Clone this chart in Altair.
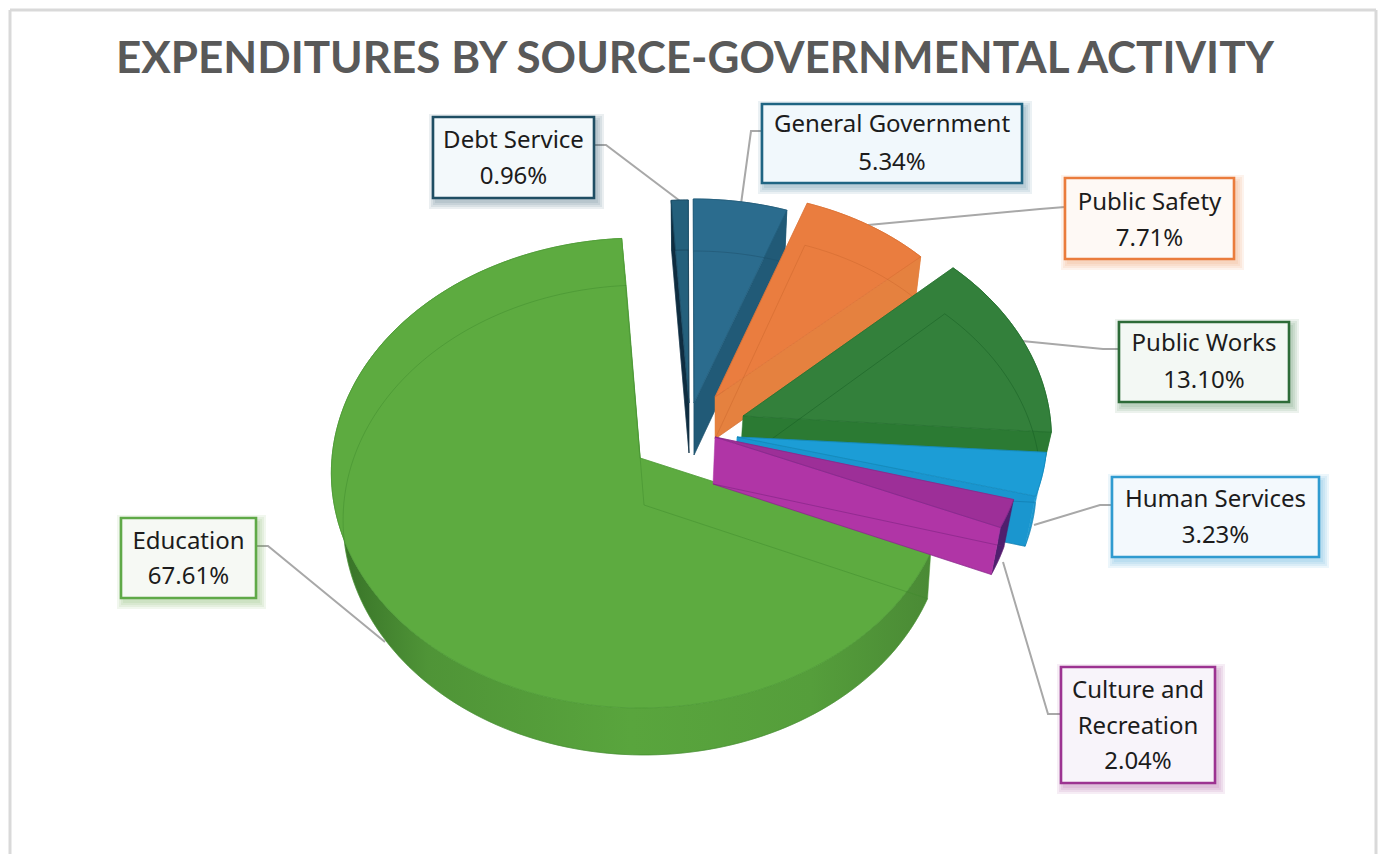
import math
import altair as alt
import pandas as pd

# Spending shares, in the order the pie runs clockwise from its first slice
categories = ["Debt Service", "General Government", "Public Safety", "Public Works",
              "Human Services", "Culture and Recreation", "Education"]
shares = [0.96, 5.34, 7.71, 13.10, 3.23, 2.04, 67.61]

# Colours: top face, radial wall, outer wall, inner edge
top_colors = ["#24607c", "#2b6c8e", "#ea7d3f", "#33803b", "#1c9dd6", "#9d2f98", "#5dab40"]
wall_colors = ["#0f2d40", "#215a77", "#e5813f", "#2b7a33", "#1a96cf", "#b035a6", "#5dab40"]
rim_colors = ["#1e5069", "#1d4f69", "#df7a3b", "#2f7838", "#1f9bd2", "#4f1f6e", "#55983c"]
edge_colors = ["#123347", "#1c4e68", "#c9662c", "#145c22", "#0e6f9e", "#6f1f78", "#3f8a2c"]

# Box styling for the callouts
box_borders = ["#1f4e63", "#1f6583", "#ea7c3c", "#2d6b38", "#2f9bd0", "#9c3391", "#5fa947"]
box_fills = ["#f3f9fb", "#f1f8fc", "#fef9f5", "#f3f8f4", "#f3f9fd", "#f8f4fa", "#f6f9f4"]

# Placement of each exploded slice: apex x, apex y, x radius, y radius, perspective, depth, bottom shift
placements = [
    (689, 403, 284, 203, 0.0, 50, 0),
    (694, 403, 284, 204, 0.0, 52, 0),
    (715, 397, 282, 205, 0.0, 42, 0),
    (743, 416, 307, 231, 0.097, 46, -3),
    (737, 437, 310, 220, 0.0, 50, -3),
    (715, 437, 310, 232, 0.0, 47, -2),
    (640, 458, 308, 234, 0.0638, 47, 4),
]
first_angle = 356.4

# Callout boxes: left, right, top, bottom
boxes = [
    (433, 594, 117, 198),
    (762, 1022, 104, 183),
    (1065, 1234, 178, 259),
    (1119, 1289, 322, 402),
    (1112, 1319, 477, 557),
    (1061, 1215, 667, 783),
    (121, 256, 518, 598),
]
label_rows = [
    [141, 177],
    [125, 163],
    [203, 239],
    [344, 381],
    [500, 536],
    [691, 727, 762],
    [542, 577],
]
label_lines = [
    ["Debt Service"],
    ["General Government"],
    ["Public Safety"],
    ["Public Works"],
    ["Human Services"],
    ["Culture and", "Recreation"],
    ["Education"],
]

# Leader lines from each callout to its slice
leaders = [
    [(594, 145), (606, 145), (684, 204)],
    [(762, 131), (751, 131), (741, 204)],
    [(1065, 207), (1040, 209), (868, 225)],
    [(1119, 349), (1103, 349), (1022, 341)],
    [(1112, 505), (1100, 505), (1034, 525)],
    [(1061, 714), (1048, 714), (1003, 562)],
    [(256, 546), (268, 546), (385, 642)],
]

title_text = "EXPENDITURES BY SOURCE-GOVERNMENTAL ACTIVITY"

W, H = 1386, 854
X = alt.X("x:Q", scale=alt.Scale(domain=[0, W], nice=False, zero=False), axis=None)
Y = alt.Y("y:Q", scale=alt.Scale(domain=[H, 0], nice=False, zero=False), axis=None)
X2 = alt.X2("x2:Q")
Y2 = alt.Y2("y2:Q")


def path_layer(points, **mark):
    """A filled or stroked outline drawn through the shared position scales."""
    frame = pd.DataFrame(
        [{"x": p[0], "y": p[1], "i": i} for i, p in enumerate(points)]
    )
    return alt.Chart(frame).mark_line(interpolate="linear", **mark).encode(
        x=X, y=Y, order=alt.Order("i:Q")
    )


def project(place, angle, bottom=False):
    ax, ay, sx, sy, k, depth, shift = place
    t = math.radians(angle)
    u, v = math.sin(t), -math.cos(t)
    w = 1 - k * v
    if bottom:
        return (ax + shift + 0.975 * sx * u / w, ay + depth + sy * v / w)
    return (ax + sx * u / w, ay + sy * v / w)


def apex(place, bottom=False):
    ax, ay, _, _, _, depth, shift = place
    return (ax + shift, ay + depth) if bottom else (ax, ay)


def arc(place, a0, a1, bottom=False):
    n = max(6, int(abs(a1 - a0) / 1.5))
    return [project(place, a0 + (a1 - a0) * i / n, bottom) for i in range(n + 1)]


layers = []

# Outer frame
frame_lines = pd.DataFrame([
    {"x": 10, "x2": 10, "y": 10, "y2": H},
    {"x": 1376, "x2": 1376, "y": 10, "y2": H},
    {"x": 10, "x2": 1376, "y": 10, "y2": 10},
])
layers.append(
    alt.Chart(frame_lines).mark_rule(color="#d9d9d9", strokeWidth=3).encode(x=X, x2=X2, y=Y, y2=Y2)
)

# Leader lines sit behind the pie
for points in leaders:
    layers.append(path_layer(points, color="#a8a8a8", strokeWidth=2))

# Slices, back to front: Education first, then clockwise from Debt Service
angles = []
running = first_angle
for share in shares:
    sweep = 360 * share / 100
    angles.append((running, running + sweep))
    running += sweep

education_wall = alt.LinearGradient(
    gradient="linear", x1=0, x2=1, y1=0, y2=0,
    stops=[
        alt.GradientStop(color="#356f26", offset=0),
        alt.GradientStop(color="#4f9437", offset=0.16),
        alt.GradientStop(color="#59a53d", offset=0.5),
        alt.GradientStop(color="#559e3b", offset=0.8),
        alt.GradientStop(color="#4a8a35", offset=1),
    ],
)

for idx in [6, 0, 1, 2, 3, 4, 5]:
    place = placements[idx]
    a0, a1 = angles[idx]
    top = [apex(place)] + arc(place, a0, a1)
    top.append(top[0])
    bottom = [apex(place, True)] + arc(place, a0, a1, True)
    bottom.append(bottom[0])

    # Outer wall between the two arcs
    rim = arc(place, a0, a1) + arc(place, a0, a1, True)[::-1]
    rim.append(rim[0])
    rim_fill = education_wall if idx == 6 else rim_colors[idx]
    rim_stroke = "#4f9437" if idx == 6 else rim_colors[idx]
    layers.append(path_layer(rim, fill=rim_fill, stroke=rim_stroke, strokeWidth=0.5))

    # Radial wall facing the viewer
    side_angle = a0 if idx == 0 else a1
    wall = [apex(place), project(place, side_angle), project(place, side_angle, True), apex(place, True)]
    wall.append(wall[0])
    layers.append(path_layer(wall, fill=wall_colors[idx], stroke=wall_colors[idx], strokeWidth=0.5))

    # Top face, with the far edges showing faintly through it
    layers.append(path_layer(top, fill=top_colors[idx], stroke=top_colors[idx], strokeWidth=0.8))
    layers.append(path_layer(bottom, color=edge_colors[idx], strokeWidth=1.0, opacity=0.45))
    layers.append(path_layer(top, color=edge_colors[idx], strokeWidth=0.9, opacity=0.4))

# Callout boxes with a soft shadow
for idx, (x0, x1, y0, y1) in enumerate(boxes):
    for grow in (7, 5, 3, 1):
        ring = pd.DataFrame([{"x": x0 + 3 - grow, "x2": x1 + 3 + grow, "y": y0 + 4 - grow, "y2": y1 + 4 + grow}])
        layers.append(
            alt.Chart(ring).mark_rect(color=box_borders[idx], opacity=0.09).encode(x=X, x2=X2, y=Y, y2=Y2)
        )
    box = pd.DataFrame([{"x": x0, "x2": x1, "y": y0, "y2": y1}])
    layers.append(
        alt.Chart(box).mark_rect(fill=box_fills[idx], stroke=box_borders[idx], strokeWidth=2.6).encode(
            x=X, x2=X2, y=Y, y2=Y2
        )
    )

# Callout text
rows = []
for idx, (x0, x1, _, _) in enumerate(boxes):
    texts = label_lines[idx] + [f"{shares[idx]:.2f}%"]
    for text, y in zip(texts, label_rows[idx]):
        rows.append({"x": (x0 + x1) / 2, "y": y, "label": text})
layers.append(
    alt.Chart(pd.DataFrame(rows)).mark_text(
        font="Noto Sans", fontSize=24, color="#1c1c1c", align="center", baseline="middle"
    ).encode(x=X, y=Y, text="label:N")
)

# Title
layers.append(
    alt.Chart(pd.DataFrame([{"x": 695, "y": 60, "label": title_text}])).mark_text(
        font="Lato", fontWeight="bold", fontSize=44, color="#595959", align="center", baseline="middle"
    ).encode(x=X, y=Y, text="label:N")
)

chart = alt.layer(*layers).properties(
    width=W, height=H, padding=0, background="white",
    autosize=alt.AutoSizeParams(type="none"),
).configure_view(stroke=None)

chart.save("out.html", embed_options={"renderer": "svg", "actions": False})
